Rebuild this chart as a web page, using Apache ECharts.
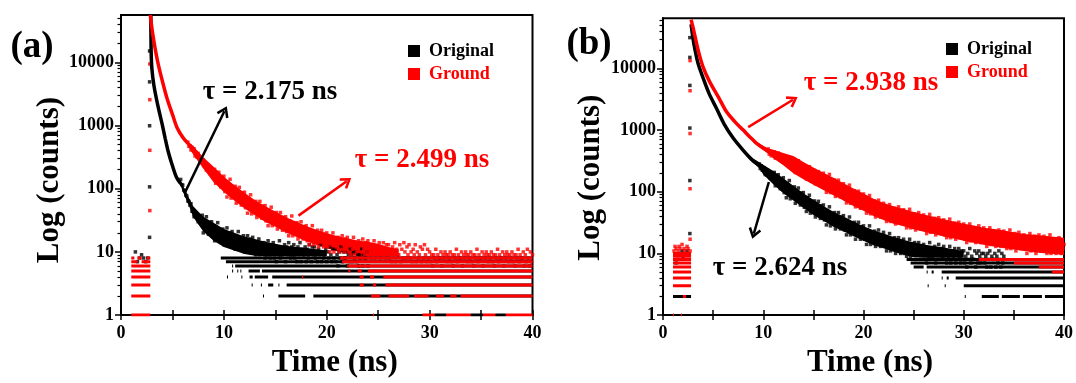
<!DOCTYPE html>
<html>
<head>
<meta charset="utf-8">
<script src="https://cdn.jsdelivr.net/npm/echarts@6/dist/echarts.min.js"></script>
<style>
  html, body { margin: 0; padding: 0; background: #fff; }
  #chart { width: 1076px; height: 383px; }
</style>
</head>
<body>
<div id="chart"></div>
<script>
// time channel width of the cloud arrays (ns)
var timeStep = 0.1;

var xTicks = [0, 10, 20, 30, 40];
var yTicks = [1, 10, 100, 1000, 10000];
var yMinorTicks = [2, 3, 4, 5, 6, 7, 8, 9, 20, 30, 40, 50, 60, 70, 80, 90,
    200, 300, 400, 500, 600, 700, 800, 900, 2000, 3000, 4000, 5000, 6000, 7000, 8000, 9000,
    20000, 30000, 40000, 50000, 60000];

// ---------- panel (a) ----------
// steep part of the decays [time, counts]
var origA_curve = [[2.9, 56000], [2.93, 15000], [3.0, 8000], [3.2, 4300], [3.6, 2000], [4.0, 1050],
    [4.3, 620], [4.6, 380], [5.0, 230], [5.4, 150], [5.8, 120]];
var groundA_curve = [[2.85, 56000], [3.0, 35000], [3.17, 23000], [3.4, 14000], [3.65, 8850], [4.0, 5200],
    [4.47, 2700], [5.0, 1500], [5.44, 930], [6.0, 650], [6.5, 520]];

// dense core of the noisy clouds [time, low, high]
var origA_band = [[5.4, 140, 162], [5.8, 110, 135], [6.2, 76, 98], [6.6, 54, 72], [7, 36, 53],
    [8, 21, 36], [9, 15, 29], [10, 12, 23], [11, 10.5, 20], [12, 9.3, 17.5], [13, 8.7, 16],
    [14, 8.5, 14.5], [15, 8.5, 13.5], [16, 8.5, 12.5], [18, 8.5, 11.5], [20, 8.5, 10.5]];
var groundA_band = [[6.0, 610, 690], [6.5, 480, 565], [7, 350, 480], [8, 208, 313], [9, 127, 222],
    [10, 89, 154], [11, 65, 114], [12, 49, 86], [13, 38, 66], [14, 30, 53], [15, 25, 43.5],
    [16, 20.5, 35.6], [17, 17.4, 30.4], [18, 14.8, 25.7], [19, 12.9, 22.4], [20, 11.4, 19.8],
    [21, 10.2, 17.8], [22, 9.5, 16.5], [23, 8.7, 15.2], [24, 8.5, 14.5], [25, 8.5, 13.5],
    [26, 8.5, 12], [27, 8.5, 11]];

// noisy clouds, one count per channel starting at t0
var origA_t0 = 5.8;
var origA_counts = [
    140, 116, 114, 95, 92, 79, 76, 64, 63, 55,
    58, 44, 45, 36, 42, 36, 40, 30, 34, 29,
    28, 38, 20, 31, 23, 36, 25, 19, 29, 21,
    30, 18, 23, 15, 25, 19, 29, 15, 21, 16,
    17, 23, 13, 20, 15, 24, 17, 13, 20, 14,
    21, 13, 16, 11, 18, 14, 21, 11, 16, 13,
    13, 18, 10, 16, 12, 18, 13, 10, 16, 11,
    17, 10, 13, 9, 14, 11, 16, 9, 12, 10,
    11, 14, 8, 13, 9, 15, 11, 8, 13, 10,
    14, 8, 11, 7, 12, 9, 15, 8, 11, 9,
    10, 13, 7, 12, 9, 14, 10, 8, 12, 9,
    13, 8, 10, 7, 12, 9, 14, 7, 11, 9,
    9, 12, 7, 11, 8, 13, 10, 7, 12, 9,
    12, 8, 10, 7, 11, 9, 13, 7, 10, 8,
    9, 11, 7, 10, 8, 12, 9, 7, 11, 8,
    11, 7, 9, 6, 10, 8, 12, 7, 10, 8,
    8, 10, 6, 9, 7, 11, 9, 7, 10, 8,
    10, 7, 9, 6, 9, 8, 11, 6, 9, 8,
    8, 10, 6
];
var groundA_t0 = 6.5;
var groundA_counts = [
    545, 468, 480, 410, 452,
    402, 429, 329, 373, 315, 362, 305, 266, 302, 257,
    286, 224, 241, 197, 231, 199, 227, 170, 190, 165,
    160, 203, 122, 168, 128, 182, 134, 107, 150, 109,
    158, 90, 116, 74, 124, 92, 141, 71, 100, 77,
    82, 109, 59, 91, 65, 105, 73, 55, 86, 60,
    88, 50, 64, 41, 69, 52, 80, 40, 58, 45,
    48, 63, 35, 54, 39, 63, 44, 34, 53, 37,
    54, 31, 40, 26, 44, 33, 51, 26, 37, 29,
    31, 42, 23, 36, 27, 42, 29, 22, 35, 25,
    36, 21, 28, 18, 31, 23, 37, 18, 26, 21,
    22, 29, 16, 25, 18, 30, 21, 16, 25, 18,
    26, 15, 20, 13, 22, 17, 26, 13, 19, 15,
    16, 22, 12, 19, 14, 22, 16, 12, 19, 14,
    20, 12, 16, 10, 17, 13, 20, 10, 15, 12,
    13, 17, 10, 15, 11, 18, 13, 10, 16, 11,
    17, 10, 13, 9, 14, 11, 17, 9, 13, 10,
    11, 15, 8, 13, 10, 16, 11, 9, 14, 10,
    15, 9, 12, 8, 13, 10, 15, 8, 12, 9,
    10, 14, 8, 12, 9, 14, 10, 8, 13, 9,
    13, 8, 10, 7, 12, 9, 14, 7, 11, 9,
    9, 13, 7, 11, 8, 14, 10, 8, 12, 9,
    13, 8, 10, 7, 11, 9, 13, 7, 10, 8,
    9, 12, 7, 11, 8, 13, 9, 7, 11, 8,
    10, 7, 9, 6, 9, 8, 11, 7, 9, 8,
    8, 10, 6, 9, 8, 10, 9, 7, 9, 8,
    10, 7, 9, 6, 9, 8, 11, 7, 9, 8,
    8, 10, 6, 9, 8, 10, 9, 7, 9, 8,
    10, 7, 9, 6, 9, 8, 11, 7, 9, 8,
    8, 10, 6, 9, 8, 10, 9, 7, 9, 8,
    10, 7, 9, 6, 9, 8, 11, 7, 9, 8,
    8, 10, 6, 9, 8, 10, 9, 7, 9, 8,
    10, 7, 9, 6, 9, 8, 11, 7, 9, 8,
    8, 10, 6, 9, 7, 11, 8, 6, 10, 7, 9
];
// laser rise / pre-pulse points [time, counts]
var origA_edge = [[2.78, 15100], [2.78, 4900], [2.78, 990], [2.78, 107], [2.78, 17],
    [1.4, 10], [1.6, 7], [1.8, 8], [2.0, 9], [2.2, 8], [2.4, 7], [2.6, 8]];
var groundA_edge = [[2.8, 9400], [2.8, 2560], [2.8, 405], [2.8, 45]];
// background count rows [level, from, to]
var origA_floor = [[8, 9.7, 40], [7, 10.2, 40], [6, 10.8, 10.9], [6, 11.1, 40],
    [5, 10.8, 10.9], [5, 11.3, 11.4], [5, 11.6, 11.7], [5, 12.4, 13.5], [5, 13.7, 40],
    [4, 10.3, 10.4], [4, 11.7, 11.8], [4, 12.5, 12.8], [4, 13.0, 14.3], [4, 14.7, 40],
    [3, 12.7, 12.8], [3, 13.6, 13.7], [3, 14.3, 14.8], [3, 15.3, 15.4], [3, 16.1, 40],
    [2, 13.8, 13.9], [2, 15.3, 17.9], [2, 18.7, 40],
    [1, 30.5, 31.6], [1, 34.0, 35.2], [1, 36.4, 37.4]];
var groundA_floor = [[8, 21.3, 40], [7, 21.5, 40], [6, 22.0, 40],
    [5, 22.1, 22.3], [5, 23.0, 23.4], [5, 24.0, 40],
    [4, 17.6, 17.7], [4, 23.2, 23.6], [4, 24.2, 24.6], [4, 25.5, 40],
    [3, 23.2, 23.6], [3, 24.5, 24.8], [3, 25.7, 40],
    [2, 24.3, 25.2], [2, 26.0, 28.0], [2, 28.5, 29.9], [2, 30.6, 31.4], [2, 32.0, 32.6], [2, 33.0, 40],
    [1, 24.5, 24.6], [1, 29.3, 30.5], [1, 31.6, 34.0], [1, 35.2, 36.4], [1, 37.4, 40],
    [1, 1.0, 2.85], [2, 1.0, 2.85], [3, 1.0, 2.85], [4, 1.0, 2.85], [5, 1.0, 2.85], [6, 1.0, 2.85],
    [7, 1.0, 1.6], [7, 2.0, 2.85], [8, 1.0, 1.3], [8, 1.6, 2.0], [8, 2.5, 2.85]];

// ---------- panel (b) ----------
var origB_curve = [[2.8, 52000], [3.0, 30000], [3.18, 20600], [3.5, 12000], [4.0, 7000], [4.6, 3900],
    [5.33, 2260], [6.1, 1250], [6.98, 750], [8.0, 470], [8.96, 318], [9.6, 270]];
var groundB_curve = [[2.8, 62000], [3.0, 46000], [3.5, 20000], [4.0, 10500], [4.67, 6000], [5.5, 3500],
    [6.32, 2000], [7.2, 1350], [8.0, 1000], [8.64, 780], [9.5, 580], [10.5, 455]];

var origB_band = [[8.0, 440, 500], [9.0, 295, 345], [9.6, 240, 300], [10, 190, 275], [11, 132, 218],
    [12, 95, 165], [13, 72, 125], [14, 55, 95], [15, 42, 74], [16, 34, 59], [17, 27, 47.5],
    [18, 23, 39.6], [19, 19, 33], [20, 16, 27.7], [21, 13.6, 23.8], [22, 12.1, 21.1], [23, 10.6, 18.5],
    [24, 9.5, 16.5], [25, 8.7, 15.2], [26, 8.5, 14], [27, 8.5, 13.2], [28, 8.5, 12.5], [30, 8.5, 11]];
var groundB_band = [[9.0, 625, 700], [10.0, 470, 560], [10.5, 415, 505], [11, 350, 480], [12, 270, 425],
    [13, 200, 380], [14, 160, 303], [15, 130, 248], [16, 107, 204], [17, 88, 168], [18, 72, 138],
    [19, 59, 113], [20, 49, 94], [21, 40.5, 77], [22, 35, 66], [23, 30.4, 58], [24, 27.5, 52.4],
    [25, 24.6, 47], [26, 22.5, 42.8], [27, 20.7, 39.3], [28, 18.8, 35.9], [29, 17.4, 33], [30, 16, 30.4],
    [31, 14.9, 28.3], [32, 13.8, 26.2], [33, 13, 24.8], [34, 12.3, 23.5], [35, 11.6, 22], [36, 10.9, 20.7],
    [37, 10.5, 20], [38, 10.1, 19.3], [39, 9.8, 18.6], [40, 9.4, 18]];

var origB_t0 = 9.6;
var origB_counts = [
    282, 238, 262, 224,
    225, 244, 190, 219, 188, 220, 189, 167, 192, 167,
    162, 206, 125, 174, 132, 189, 140, 112, 158, 115,
    169, 97, 124, 80, 133, 99, 152, 77, 110, 86,
    90, 120, 65, 100, 72, 115, 80, 61, 95, 67,
    97, 56, 73, 48, 80, 58, 88, 45, 65, 51,
    53, 71, 39, 61, 44, 70, 48, 37, 59, 41,
    61, 35, 46, 29, 49, 37, 57, 28, 42, 33,
    34, 46, 25, 40, 29, 46, 33, 25, 39, 27,
    41, 24, 30, 20, 34, 26, 39, 20, 29, 22,
    24, 32, 17, 27, 20, 32, 22, 17, 27, 19,
    28, 17, 22, 14, 24, 18, 28, 14, 20, 16,
    17, 23, 13, 20, 15, 24, 17, 13, 20, 15,
    22, 13, 16, 11, 18, 14, 21, 11, 16, 13,
    13, 18, 10, 16, 12, 18, 13, 10, 16, 11,
    17, 10, 13, 9, 14, 11, 17, 9, 13, 10,
    11, 15, 8, 13, 10, 15, 11, 8, 13, 10,
    14, 8, 11, 7, 12, 9, 15, 8, 11, 9,
    10, 13, 7, 11, 8, 14, 10, 8, 12, 9,
    13, 8, 10, 7, 11, 9, 13, 7, 10, 8,
    9, 12, 7, 10, 8, 12, 9, 7, 11, 8,
    11, 7, 9, 6, 10, 8, 12, 7, 9, 8,
    8, 11, 6, 10, 7, 11, 9, 7, 10, 8,
    10, 7, 9, 6, 10, 8, 11, 6, 9, 8,
    8, 10, 6, 9, 7, 11, 8, 6, 10, 7, 9
];
var groundB_t0 = 10.5;
var groundB_counts = [
    495, 407, 451, 383, 447,
    402, 443, 352, 412, 359, 424, 368, 329, 382, 333,
    381, 306, 336, 281, 337, 296, 344, 264, 301, 267,
    261, 336, 205, 288, 221, 320, 241, 194, 276, 203,
    275, 181, 220, 162, 235, 186, 255, 154, 203, 166,
    171, 221, 135, 190, 146, 212, 160, 129, 185, 136,
    200, 116, 149, 98, 164, 123, 191, 97, 140, 109,
    116, 155, 84, 132, 95, 154, 108, 83, 130, 92,
    135, 78, 101, 66, 110, 83, 128, 65, 94, 74,
    78, 104, 57, 89, 65, 102, 71, 54, 87, 62,
    92, 54, 68, 45, 76, 57, 87, 44, 64, 50,
    53, 71, 39, 62, 45, 73, 51, 39, 62, 44,
    65, 38, 49, 33, 56, 42, 62, 33, 47, 38,
    40, 54, 30, 48, 35, 57, 40, 31, 49, 35,
    51, 30, 39, 26, 44, 33, 52, 26, 38, 31,
    32, 44, 24, 38, 28, 46, 32, 25, 39, 28,
    42, 25, 32, 21, 36, 27, 43, 22, 32, 25,
    27, 37, 20, 32, 24, 38, 27, 21, 33, 24,
    35, 20, 27, 18, 30, 23, 36, 18, 27, 21,
    23, 31, 17, 27, 20, 32, 23, 18, 28, 20,
    30, 17, 23, 15, 26, 20, 30, 16, 23, 18,
    19, 26, 15, 23, 17, 28, 20, 15, 24, 17,
    26, 15, 20, 13, 22, 17, 26, 14, 20, 16,
    17, 23, 13, 20, 15, 24, 17, 13, 22, 15,
    23, 13, 18, 12, 20, 15, 24, 12, 18, 14,
    15, 21, 11, 18, 13, 22, 15, 12, 19, 14,
    20, 12, 16, 10, 18, 14, 21, 11, 16, 13,
    14, 19, 10, 16, 12, 20, 14, 11, 18, 13,
    19, 11, 15, 10, 17, 13, 20, 10, 15, 12,
    13, 17, 10, 15, 11, 18, 13, 10, 16, 12, 14
];
var origB_edge = [[2.68, 31600], [2.68, 15100], [2.68, 5300], [2.68, 1080], [2.68, 152], [2.68, 21],
    [1.3, 7], [1.5, 8], [1.7, 10], [1.9, 11], [2.0, 9], [2.2, 10], [2.4, 11]];
var groundB_edge = [[2.7, 13400], [2.7, 4350], [2.7, 880], [2.7, 112], [2.7, 17],
    [1.1, 11], [1.2, 13], [1.3, 12], [1.5, 11], [1.6, 13], [1.7, 12], [1.9, 14],
    [2.1, 12], [2.2, 11], [2.4, 13], [2.5, 12], [2.7, 11]];
var origB_floor = [[8, 24.3, 40], [7, 24.7, 40], [6, 25.0, 26.0], [6, 26.3, 40],
    [5, 26.3, 26.4], [5, 26.8, 27.0], [5, 27.8, 40],
    [4, 27.8, 27.9], [4, 28.3, 28.5], [4, 29.2, 40],
    [3, 26.4, 26.5], [3, 28.1, 28.2], [3, 30.0, 40],
    [2, 30.1, 30.2], [2, 31.8, 33.5], [2, 33.8, 35.6], [2, 35.9, 37.8], [2, 38.1, 40],
    [2, 1.0, 2.8]];
var groundB_floor = [[8, 31.5, 40], [7, 35.0, 40], [6, 37.5, 40], [5, 38.8, 40],
    [3, 1.0, 2.8], [4, 1.0, 2.8], [5, 1.0, 2.8], [6, 1.0, 2.8], [7, 1.0, 2.8],
    [8, 1.0, 2.8], [9, 1.0, 2.8], [10, 1.0, 2.8], [2, 2.0, 2.3], [1, 1.0, 1.1], [1, 1.8, 1.9]];

// lifetime arrows [from, to] in data coords
var arrowsA = [
    {from: [6.2, 86], to: [10.05, 1680], color: '#000'},
    {from: [17.25, 37.5], to: [21.94, 131], color: '#ff0000'}
];
var arrowsB = [
    {from: [8.5, 1120], to: [12.96, 3100], color: '#ff0000'},
    {from: [10.56, 144], to: [9.06, 21], color: '#000'}
];

var BLACK = '#000';
var RED = '#ff0000';
var FONT = "'Liberation Serif', 'Times New Roman', serif";

function toPoints(t0, counts) {
    return counts.map(function (c, i) {
        return [Math.round((t0 + i * timeStep) * 100) / 100, c];
    });
}
function floorLine(runs) {
    var d = [];
    runs.forEach(function (r) {
        d.push([r[1], r[0]], [r[2], r[0]], [r[2], '-']);
    });
    return d;
}
function arrowLines(list) {
    return list.map(function (a) {
        return [{coord: a.from, lineStyle: {color: a.color}},
                {coord: a.to, lineStyle: {color: a.color}, itemStyle: {color: a.color}}];
    });
}
// filled core of a cloud, mapped through the axes
function bandSeries(name, band, color) {
    return {name: name, type: 'custom', data: [[band[0][0], band[0][1]]],
        renderItem: function (params, api) {
            var pts = band.map(function (b) { return api.coord([b[0], b[2]]); });
            for (var i = band.length - 1; i >= 0; i--) {
                pts.push(api.coord([band[i][0], band[i][1]]));
            }
            return {type: 'polygon', shape: {points: pts}, style: {fill: color}};
        }};
}

var chevron = 'path://M5,0 L10,8.6 L8.4,10 L5,4 L1.6,10 L0,8.6 Z';

function panelSeries(xi, yi, o, g) {
    var common = {xAxisIndex: xi, yAxisIndex: yi, silent: true, animation: false};
    var list = [
        {name: 'Original', type: 'line', data: floorLine(o.floor), symbol: 'none',
            lineStyle: {color: BLACK, width: 3}, itemStyle: {color: BLACK}},
        bandSeries('Original', o.band, BLACK),
        {name: 'Original', type: 'scatter', data: o.edge.concat(toPoints(o.t0, o.counts)),
            symbol: 'rect', symbolSize: 3.5, itemStyle: {color: BLACK}},
        {name: 'Original', type: 'line', data: o.curve, symbol: 'none', smooth: 0.3,
            lineStyle: {color: BLACK, width: 3.5}, itemStyle: {color: BLACK}},
        {name: 'Ground', type: 'line', data: floorLine(g.floor), symbol: 'none',
            lineStyle: {color: RED, width: 3}, itemStyle: {color: RED}},
        bandSeries('Ground', g.band, RED),
        {name: 'Ground', type: 'scatter', data: g.edge.concat(toPoints(g.t0, g.counts)),
            symbol: 'rect', symbolSize: 3.5, itemStyle: {color: RED}},
        {name: 'Ground', type: 'line', data: g.curve, symbol: 'none', smooth: 0.3,
            lineStyle: {color: RED, width: 3.5}, itemStyle: {color: RED},
            markLine: {silent: true, animation: false, symbol: ['none', chevron], symbolSize: [13, 11],
                label: {show: false}, lineStyle: {width: 2.5, type: 'solid'},
                data: arrowLines(g.arrows)}}
    ];
    return list.map(function (s) { return Object.assign({}, common, s); });
}

function xAxes(gi, nameGap, namePad) {
    return [
        {gridIndex: gi, type: 'value', min: 0, max: 40, interval: 5, position: 'bottom',
            name: 'Time (ns)', nameLocation: 'middle', nameGap: nameGap,
            nameTextStyle: {fontFamily: FONT, fontWeight: 'bold', fontSize: 31, color: '#000', padding: namePad},
            axisLine: {lineStyle: {color: '#000', width: 2}},
            axisTick: {inside: false, length: 5, lineStyle: {width: 1.5, color: '#000'}},
            axisLabel: {fontFamily: FONT, fontWeight: 'bold', fontSize: 18, color: '#000', margin: 9,
                formatter: function (v) { return xTicks.indexOf(v) >= 0 ? String(v) : ''; }},
            splitLine: {show: false}},
        {gridIndex: gi, type: 'value', min: 0, max: 40, interval: 5, position: 'bottom',
            axisLine: {show: false},
            axisTick: {inside: true, length: 5, lineStyle: {width: 1.5, color: '#000'}},
            axisLabel: {show: false}, splitLine: {show: false}}
    ];
}
function yAxes(gi, max, nameGap, namePad) {
    return [
        {gridIndex: gi, type: 'log', logBase: 10, min: 1, max: max, position: 'left',
            name: 'Log (counts)', nameLocation: 'middle', nameGap: nameGap, nameRotate: 90,
            nameTextStyle: {fontFamily: FONT, fontWeight: 'bold', fontSize: 31, color: '#000', padding: namePad},
            axisLine: {show: true, lineStyle: {color: '#000', width: 2}},
            axisTick: {show: true, inside: false, length: 6, customValues: yTicks, lineStyle: {width: 1.5, color: '#000'}},
            axisLabel: {fontFamily: FONT, fontWeight: 'bold', fontSize: 18, color: '#000', margin: 7,
                customValues: yTicks, formatter: function (v) { return String(Math.round(v)); }},
            splitLine: {show: false}},
        {gridIndex: gi, type: 'log', logBase: 10, min: 1, max: max, position: 'left',
            axisLine: {show: false},
            axisTick: {show: true, inside: false, length: 3.5, customValues: yMinorTicks, lineStyle: {width: 1.2, color: '#000'}},
            axisLabel: {show: false}, splitLine: {show: false}}
    ];
}

var legendText = {fontFamily: FONT, fontWeight: 'bold', fontSize: 18, padding: [0, 0, 0, 4]};
function legendAt(left, top) {
    return {orient: 'vertical', left: left, top: top, icon: 'rect', itemWidth: 12, itemHeight: 12,
        itemGap: 5, selectedMode: false, textStyle: legendText,
        data: [{name: 'Original', textStyle: {color: BLACK}}, {name: 'Ground', textStyle: {color: RED}}]};
}
function label(text, x, y, size, color) {
    return {type: 'text', x: x, y: y, silent: true,
        style: {text: text, font: 'bold ' + size + 'px ' + FONT, fill: color,
            textAlign: 'center', textVerticalAlign: 'middle'}};
}

var myChart = echarts.init(document.getElementById('chart'), null, {renderer: 'canvas'});

var option = {
    animation: false,
    backgroundColor: '#fff',
    grid: [
        {left: 121, top: 15, width: 411.5, height: 306.7, show: true, borderColor: '#000', borderWidth: 2},
        {left: 663, top: 18.3, width: 403, height: 301.7, show: true, borderColor: '#000', borderWidth: 2}
    ],
    xAxis: xAxes(0, 26, [0, 0, 0, 16]).concat(xAxes(1, 28, [0, 0, 0, 13])),
    yAxis: yAxes(0, 56000, 55, [0, 30, 0, 0]).concat(yAxes(1, 65000, 57, [0, 22, 0, 0])),
    legend: [legendAt(403, 37), legendAt(941, 35)],
    graphic: [
        label('(a)', 32, 47, 37, BLACK),
        label('(b)', 589, 44, 37, BLACK),
        label('τ = 2.175 ns', 270, 92, 27, BLACK),
        label('τ = 2.499 ns', 422, 160, 27, RED),
        label('τ = 2.938 ns', 871, 83, 27, RED),
        label('τ = 2.624 ns', 780, 268, 27, BLACK)
    ],
    series: panelSeries(0, 0,
            {floor: origA_floor, band: origA_band, edge: origA_edge, t0: origA_t0, counts: origA_counts, curve: origA_curve},
            {floor: groundA_floor, band: groundA_band, edge: groundA_edge, t0: groundA_t0, counts: groundA_counts, curve: groundA_curve, arrows: arrowsA})
        .concat(panelSeries(2, 2,
            {floor: origB_floor, band: origB_band, edge: origB_edge, t0: origB_t0, counts: origB_counts, curve: origB_curve},
            {floor: groundB_floor, band: groundB_band, edge: groundB_edge, t0: groundB_t0, counts: groundB_counts, curve: groundB_curve, arrows: arrowsB}))
};

myChart.setOption(option);
</script>
</body>
</html>
